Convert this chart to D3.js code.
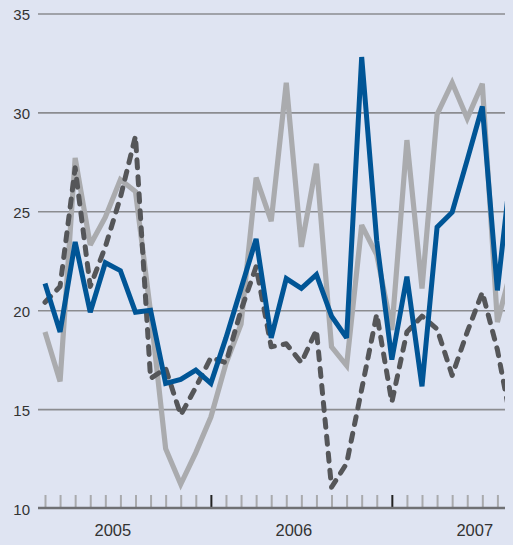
<!DOCTYPE html>
<html>
<head>
<meta charset="utf-8">
<script src="https://cdn.jsdelivr.net/npm/d3@7"></script>
<style>
  html, body { margin: 0; padding: 0; background: #dfe4f2; }
  svg { display: block; }
  text { font-family: "Liberation Sans", Arial, sans-serif; fill: #333; }
</style>
</head>
<body>
<svg id="chart" width="513" height="545"></svg>
<script>
// ---- data ----
const months = [
  "2005-02","2005-03","2005-04","2005-05","2005-06","2005-07","2005-08","2005-09","2005-10","2005-11","2005-12",
  "2006-01","2006-02","2006-03","2006-04","2006-05","2006-06","2006-07","2006-08","2006-09","2006-10","2006-11","2006-12",
  "2007-01","2007-02","2007-03","2007-04","2007-05","2007-06","2007-07","2007-08","2007-09"
];
const graySeries = [18.9,16.4,27.7,23.3,24.7,26.6,26.0,19.9,13.0,11.2,12.8,14.6,17.3,19.3,26.7,24.5,31.5,23.2,27.4,18.15,17.2,24.3,22.8,19.0,28.6,21.1,29.9,31.5,29.7,31.45,19.4,22.3];
const dashedSeries = [20.4,21.2,27.2,21.2,23.2,25.7,28.8,16.55,17.05,14.7,16.1,17.6,17.35,20.0,22.2,18.15,18.3,17.35,19.0,11.05,12.25,16.0,19.8,15.35,18.9,19.7,19.05,16.7,18.9,20.9,18.0,14.0];
const blueSeries = [21.35,18.9,23.45,19.9,22.4,22.0,19.9,20.0,16.3,16.5,16.97,16.3,18.6,21.1,23.6,18.6,21.6,21.1,21.8,19.7,18.6,32.8,23.5,17.5,21.7,16.15,24.2,24.95,27.6,30.3,21.0,27.8];
const yTicks = [10,15,20,25,30,35];
const yearLabels = ["2005","2006","2007"];

// ---- layout ----
const svg = d3.select("#chart");
const plotLeft = 38, plotRight = 505;
const step = 15.08;
const x = d3.scalePoint().domain(months).range([45, 45 + step * (months.length - 1)]);
const y = d3.scaleLinear().domain([10, 35]).range([508, 13.5]);

// grid lines (via axis)
const grid = svg.append("g")
  .attr("transform", `translate(${plotLeft},0)`)
  .call(d3.axisRight(y).tickValues(yTicks.filter(v => v > 10)).tickSize(plotRight - plotLeft).tickFormat(""));
grid.select(".domain").remove();
grid.selectAll(".tick line").attr("stroke", "#8b8c90").attr("stroke-width", 1.6);

// y labels
const yl = svg.append("g")
  .attr("transform", `translate(30,0)`)
  .call(d3.axisLeft(y).tickValues(yTicks).tickSize(0).tickPadding(0));
yl.select(".domain").remove();
yl.selectAll(".tick text")
  .attr("font-size", 15).attr("fill", "#333").attr("dy", "0.62em")
  .attr("y", 0).attr("transform", "translate(0,-3)");

// bottom axis ticks
const xa = svg.append("g")
  .attr("transform", "translate(0,507)")
  .call(d3.axisBottom(x).tickValues(months.filter(m => x(m) <= plotRight)).tickSize(-12).tickFormat(""));
xa.select(".domain").remove();
xa.selectAll(".tick line")
  .attr("stroke", d => d.endsWith("-01") ? "#222" : "#a9aaad")
  .attr("stroke-width", 2);

// axis baseline
svg.append("line")
  .attr("x1", plotLeft).attr("x2", plotRight)
  .attr("y1", y(10)).attr("y2", y(10))
  .attr("stroke", "#6f7074").attr("stroke-width", 2.6);

// year labels
svg.append("g").selectAll("text")
  .data(yearLabels)
  .join("text")
  .attr("x", d => x(d + "-06") + step * 0.5)
  .attr("y", 536)
  .attr("text-anchor", "middle")
  .attr("font-size", 16.5)
  .attr("fill", "#333")
  .text(d => d);

// clip
svg.append("clipPath").attr("id", "clip")
  .append("rect").attr("x", plotLeft).attr("y", 0).attr("width", plotRight - plotLeft).attr("height", 545);

const line = d3.line().x((d, i) => x(months[i])).y(d => y(d));
const lines = svg.append("g").attr("clip-path", "url(#clip)");

lines.append("path").datum(graySeries)
  .attr("d", line).attr("fill", "none")
  .attr("stroke", "#aaabae").attr("stroke-width", 5.2)
  .attr("stroke-linejoin", "miter").attr("stroke-miterlimit", 3);

lines.append("path").datum(dashedSeries)
  .attr("d", line).attr("fill", "none")
  .attr("stroke", "#555659").attr("stroke-width", 5)
  .attr("stroke-dasharray", "8,9").attr("stroke-linecap", "round")
  .attr("stroke-linejoin", "round");

lines.append("path").datum(blueSeries)
  .attr("d", line).attr("fill", "none")
  .attr("stroke", "#005596").attr("stroke-width", 5)
  .attr("stroke-linejoin", "miter").attr("stroke-miterlimit", 3);
</script>
</body>
</html>
